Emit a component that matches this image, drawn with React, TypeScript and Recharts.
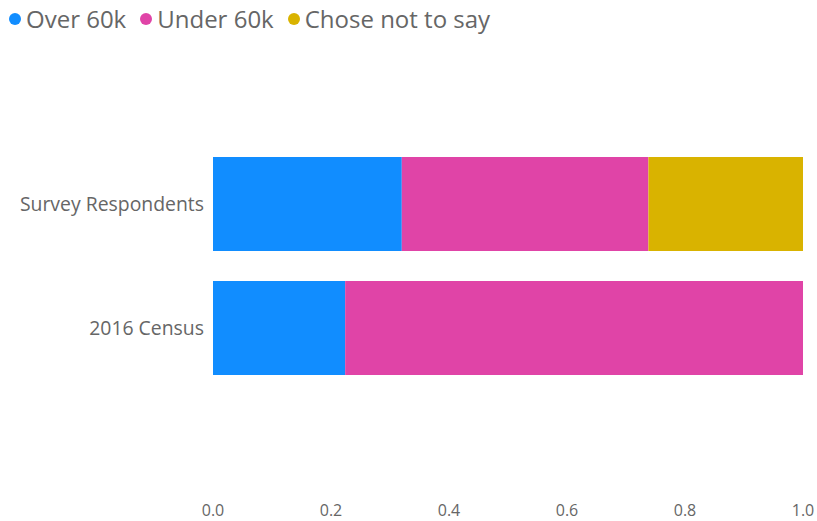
import { BarChart, Bar, XAxis, YAxis } from 'recharts'

const categories = ['Survey Respondents', '2016 Census']
const over60k = [0.32, 0.224]
const under60k = [0.418, 0.776]
const choseNot = [0.262, 0]
const xTicks = [0, 0.2, 0.4, 0.6, 0.8, 1.0]

const SERIES = [
  { key: 'over', name: 'Over 60k', color: '#118DFF' },
  { key: 'under', name: 'Under 60k', color: '#E044A7' },
  { key: 'chose', name: 'Chose not to say', color: '#D9B300' },
]

const FONT = '"Open Sans", "Segoe UI", sans-serif'
const TEXT = '#666666'

const data = categories.map((name, i) => ({
  name,
  over: over60k[i],
  under: under60k[i],
  chose: choseNot[i],
}))

function XTick(props: any) {
  const { x, y, payload } = props
  return (
    <text x={x} y={y + 112} textAnchor="middle" dy="0.355em" fill={TEXT} fontSize={16} fontFamily={FONT}>
      {Number(payload.value).toFixed(1)}
    </text>
  )
}

export default function App() {
  return (
    <div style={{ position: 'absolute', left: 0, top: 0, width: 817, height: 521, background: '#fff' }}>
      <div
        style={{
          position: 'absolute',
          left: 9,
          top: 2,
          display: 'flex',
          alignItems: 'center',
          fontFamily: FONT,
          fontSize: 24,
          color: TEXT,
          whiteSpace: 'nowrap',
        }}
      >
        {SERIES.map(s => (
          <span key={s.key} style={{ display: 'flex', alignItems: 'center', marginRight: 14 }}>
            <span style={{ width: 12, height: 12, borderRadius: 6, background: s.color, marginRight: 5 }} />
            {s.name}
          </span>
        ))}
      </div>
      <BarChart
        width={817}
        height={521}
        data={data}
        layout="vertical"
        margin={{ top: 142, right: 14, bottom: 0, left: 0 }}
      >
        <XAxis
          type="number"
          domain={[0, 1]}
          ticks={xTicks}
          axisLine={false}
          tickLine={false}
          height={131}
          tick={<XTick />}
          interval={0}
        />
        <YAxis
          type="category"
          dataKey="name"
          width={213}
          axisLine={false}
          tickLine={false}
          tickSize={0}
          tickMargin={9}
          tick={{ fill: TEXT, fontSize: 19.4, fontFamily: FONT }}
        />
        {SERIES.map(s => (
          <Bar key={s.key} dataKey={s.key} name={s.name} stackId="a" fill={s.color} barSize={94} isAnimationActive={false} />
        ))}
      </BarChart>
    </div>
  )
}
